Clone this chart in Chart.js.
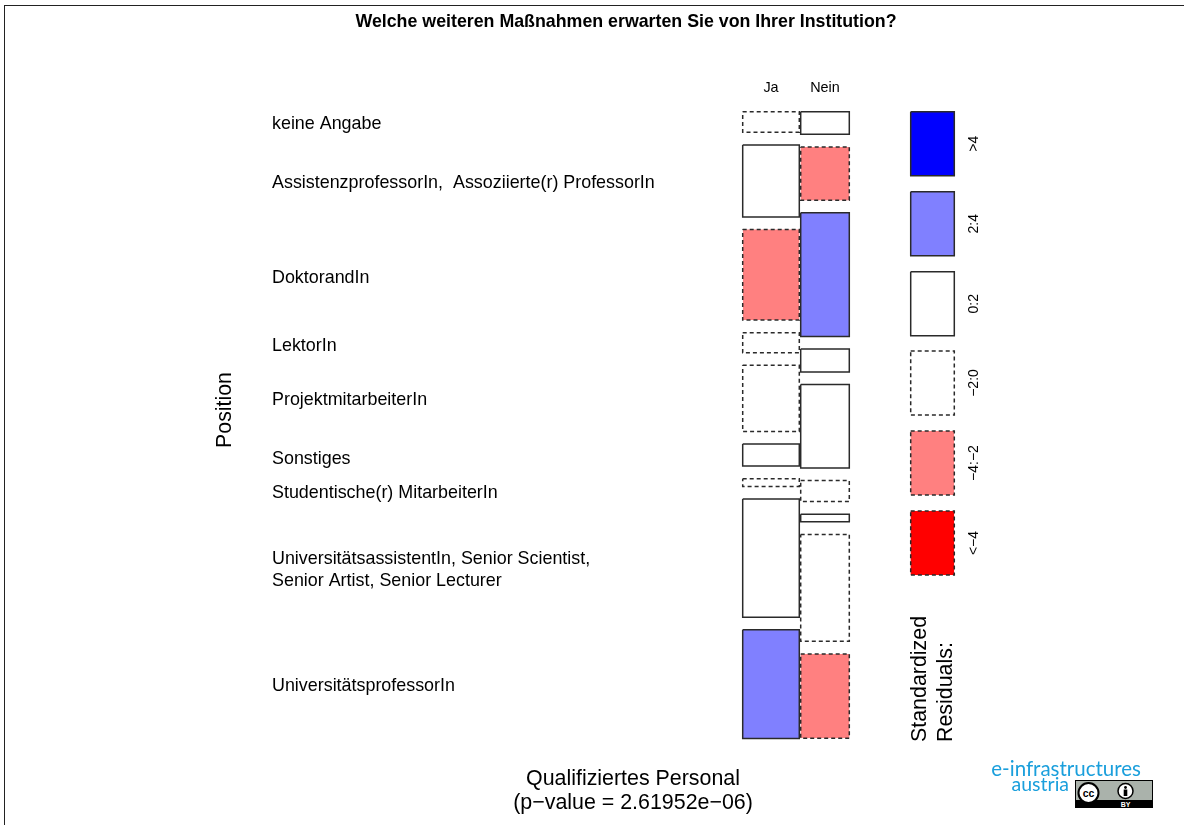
<!DOCTYPE html>
<html>
<head>
<meta charset="utf-8">
<title>Mosaik</title>
<script src="https://cdn.jsdelivr.net/npm/chart.js@4"></script>
<style>
  body { margin: 0; background: #fff; }
  #wrap { position: relative; width: 1184px; height: 825px; overflow: hidden; }
  #frame { position: absolute; left: 4px; top: 5px; right: -2px; bottom: -2px; border-top: 1px solid #222; border-left: 1px solid #222; }
  #chart { position: absolute; left: 0; top: 0; }
  #badge { position: absolute; left: 1075px; top: 780px; }
</style>
</head>
<body>
<div id="wrap">
  <div id="frame"></div>
  <canvas id="chart" width="1184" height="825"></canvas>
  <svg id="badge" width="78" height="28" viewBox="0 0 78 28">
    <rect width="78" height="28" fill="#000"/>
    <rect x="1" y="1" width="76" height="19" fill="#aab2ab"/>
    <circle cx="13.5" cy="13" r="10" fill="#fff" stroke="#000" stroke-width="2"/>
    <text x="13.5" y="16.5" text-anchor="middle" font-family="Liberation Sans" font-weight="bold" font-size="10.5">cc</text>
    <circle cx="50.5" cy="11" r="7.5" fill="#fff" stroke="#000" stroke-width="1.5"/>
    <circle cx="50.5" cy="7.5" r="1.4" fill="#000"/>
    <rect x="48.7" y="9.5" width="3.6" height="6.5" fill="#000"/>
    <text x="50.5" y="26.7" text-anchor="middle" font-family="Liberation Sans" font-weight="bold" font-size="7" fill="#fff">BY</text>
  </svg>
</div>
<script>
const titleText = 'Welche weiteren Maßnahmen erwarten Sie von Ihrer Institution?';
const columns = ['Ja', 'Nein'];
const rowLabels = [
  'keine Angabe',
  'AssistenzprofessorIn,  Assoziierte(r) ProfessorIn',
  'DoktorandIn',
  'LektorIn',
  'ProjektmitarbeiterIn',
  'Sonstiges',
  'Studentische(r) MitarbeiterIn',
  ['UniversitätsassistentIn, Senior Scientist,', 'Senior Artist, Senior Lecturer'],
  'UniversitätsprofessorIn'
];
// where the row names sit on the y axis
const rowLabelPos = [12.3, 71.3, 166.3, 234.3, 288.3, 347.3, 381.3, 458.3, 574.3];

// cell heights, top to bottom
const jaHeights = [20.6, 72, 90.6, 20, 66.2, 22, 7.7, 118.2, 108.6];
const neinHeights = [22.6, 53.3, 123.6, 23, 83.4, 21, 7.6, 106.9, 84.3];
const jaClass = ['-2:0', '0:2', '-4:-2', '-2:0', '-2:0', '0:2', '-2:0', '0:2', '2:4'];
const neinClass = ['0:2', '-4:-2', '2:4', '0:2', '0:2', '-2:0', '0:2', '-2:0', '-4:-2'];
const cellGap = 12.6;

// column extents on the x axis
const jaRange = [0, 56.6];
const neinRange = [58, 106.6];
const legendRange = [168, 211.6];

const legendKeys = ['>4', '2:4', '0:2', '-2:0', '-4:-2', '<-4'];
const legendLabels = ['>4', '2:4', '0:2', '−2:0', '−4:−2', '<−4'];
const legendStarts = [0, 80, 160, 239.3, 319.3, 399.3];
const legendHeight = 64;

const fills = { '>4': '#0000ff', '2:4': '#8080ff', '0:2': 'rgba(0,0,0,0)', '-2:0': 'rgba(0,0,0,0)', '-4:-2': '#ff8080', '<-4': '#ff0000' };
const dashed = ['-2:0', '-4:-2', '<-4'];

function cell(xr, y0, h, key) {
  return {
    data: [
      { x: xr[0], y: y0 }, { x: xr[1], y: y0 },
      { x: xr[1], y: y0 + h }, { x: xr[0], y: y0 + h }, { x: xr[0], y: y0 }
    ],
    showLine: true,
    tension: 0,
    pointRadius: 0,
    borderColor: '#2a2a2a',
    borderWidth: 1.5,
    borderDash: dashed.includes(key) ? [4, 3] : [],
    backgroundColor: fills[key],
    fill: 'shape',
    clip: false
  };
}

function column(xr, heights, classes) {
  let y = 0;
  return heights.map((h, i) => {
    const c = cell(xr, y, h, classes[i]);
    y += h + cellGap;
    return c;
  });
}

const datasets = [
  ...column(jaRange, jaHeights, jaClass),
  ...column(neinRange, neinHeights, neinClass),
  ...legendKeys.map((k, i) => cell(legendRange, legendStarts[i], legendHeight, k))
];

// free standing text that the axes cannot place
const notes = [
  { t: titleText, x: 626, y: 22, font: 'bold 17.8px "Liberation Sans"' },
  { t: 'Position', x: 225, y: 410, rot: true, font: '21.3px "Liberation Sans"' },
  { t: 'Qualifiziertes Personal', x: 633, y: 779, font: '21.4px "Liberation Sans"' },
  { t: '(p−value = 2.61952e−06)', x: 633, y: 803, font: '21.4px "Liberation Sans"' },
  { t: 'Standardized', x: 920, y: 742, rot: true, align: 'left', font: '21.4px "Liberation Sans"' },
  { t: 'Residuals:', x: 946, y: 742, rot: true, align: 'left', font: '21.4px "Liberation Sans"' },
  { t: 'e-infrastructures', x: 1141, y: 769, align: 'right', color: '#1a9fdc', font: '20.5px Lato' },
  { t: 'austria', x: 1069, y: 785, align: 'right', color: '#1a9fdc', font: '19.5px Lato' }
];

const notesPlugin = {
  id: 'notes',
  afterDraw(chart) {
    const ctx = chart.ctx;
    notes.forEach(n => {
      ctx.save();
      ctx.translate(n.x, n.y);
      if (n.rot) ctx.rotate(-Math.PI / 2);
      ctx.font = n.font;
      ctx.fillStyle = n.color || '#000';
      ctx.textAlign = n.align || 'center';
      ctx.textBaseline = 'middle';
      ctx.fillText(n.t, 0, 0);
      ctx.restore();
    });
  }
};

new Chart(document.getElementById('chart'), {
  type: 'scatter',
  data: { datasets },
  plugins: [notesPlugin],
  options: {
    responsive: false,
    animation: false,
    layout: { padding: { left: 272, top: 60, right: 0, bottom: 86.7 } },
    plugins: { legend: { display: false }, tooltip: { enabled: false }, title: { display: false } },
    scales: {
      x: {
        type: 'linear',
        position: 'top',
        min: 0,
        max: 211.6,
        grid: { display: false, drawTicks: false },
        border: { display: false },
        afterBuildTicks: s => { s.ticks = [{ value: 28.3 }, { value: 82.3 }]; },
        afterFit: s => { s.height = 51.7; },
        ticks: {
          autoSkip: false,
          maxRotation: 0,
          padding: 15,
          color: '#000',
          font: { family: 'Liberation Sans', size: 14.4 },
          callback: (v, i) => columns[i]
        }
      },
      y: {
        type: 'linear',
        position: 'left',
        reverse: true,
        min: 0,
        max: 626.6,
        grid: { display: false, drawTicks: false },
        border: { display: false },
        afterBuildTicks: s => { s.ticks = rowLabelPos.map(v => ({ value: v })); },
        afterFit: s => { s.width = 470.7; },
        ticks: {
          autoSkip: false,
          crossAlign: 'far',
          padding: 0,
          color: '#000',
          font: { family: 'Liberation Sans', size: 17.9, lineHeight: 1.23 },
          callback: (v, i) => rowLabels[i]
        }
      },
      legendAxis: {
        type: 'linear',
        position: 'right',
        reverse: true,
        min: 0,
        max: 626.6,
        grid: { display: false, drawTicks: false },
        border: { display: false },
        afterBuildTicks: s => { s.ticks = legendStarts.map(v => ({ value: v + legendHeight / 2 })); },
        afterFit: s => { s.width = 229.7; },
        ticks: {
          autoSkip: false,
          minRotation: 90,
          maxRotation: 90,
          crossAlign: 'center',
          padding: 2,
          color: '#000',
          font: { family: 'Liberation Sans', size: 14 },
          callback: (v, i) => legendLabels[i]
        }
      }
    }
  }
});
</script>
</body>
</html>
